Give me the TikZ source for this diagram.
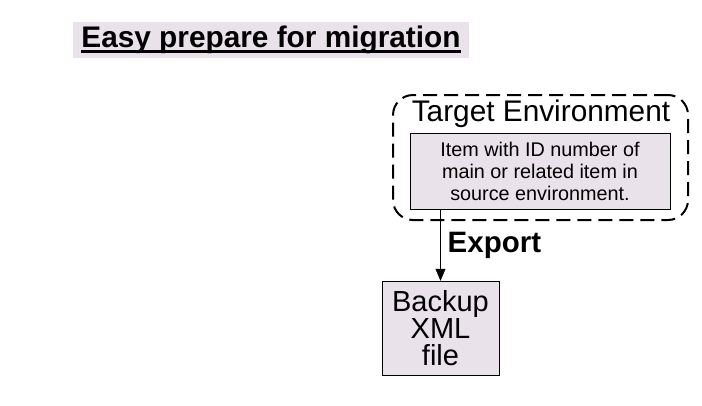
\documentclass[tikz,border=0pt]{standalone}
\usepackage{fontspec}
\setmainfont{Liberation Sans}
\usetikzlibrary{arrows.meta,positioning}
\definecolor{boxfill}{RGB}{234,226,234}

\begin{document}
\begin{tikzpicture}[x=1pt,y=1pt,>={Triangle[width=10pt,length=12pt]},semithick]
          \tikzstyle{every node}=[text=black]
          \tikzstyle{itembox}=[draw=black,thin,fill=boxfill,align=center]
          \useasboundingbox (0,0) rectangle (702,-405);

          \node[fill=boxfill,minimum width=396pt,minimum height=36pt] (titlebg) at (271,-40) {};
          \node[inner sep=0pt,font=\fontsize{29.8}{32}\selectfont\bfseries] (title) at (titlebg) {Easy prepare for migration};
          \draw[line width=2.5pt] ([yshift=-4pt]title.base west) -- ([yshift=-4pt]title.base east);

          \node[draw=black,line width=2pt,dash pattern=on 14pt off 7pt,rounded corners=20pt,
                minimum width=295pt,minimum height=125pt] (env) at (540.5,-157.5) {};
          \node[font=\fontsize{29.8}{32}\selectfont,inner sep=0pt,anchor=base] (envlabel) at (541,-121) {Target Environment};
          \node[itembox,minimum width=260pt,minimum height=76pt,
                font=\fontsize{19.8}{22}\selectfont] (item) at (540,-171)
                {Item with ID number of\\main or related item in\\source environment.};
          \node[itembox,minimum width=117pt,minimum height=94pt,
                font=\fontsize{29}{27}\selectfont] (backup) at (440.5,-328) {Backup\\XML\\file};

          \draw[->,thin] (backup |- item.south) -- node[right,inner sep=7pt,font=\fontsize{29.5}{32}\selectfont\bfseries] {Export} (backup.north);
\end{tikzpicture}
\end{document}
